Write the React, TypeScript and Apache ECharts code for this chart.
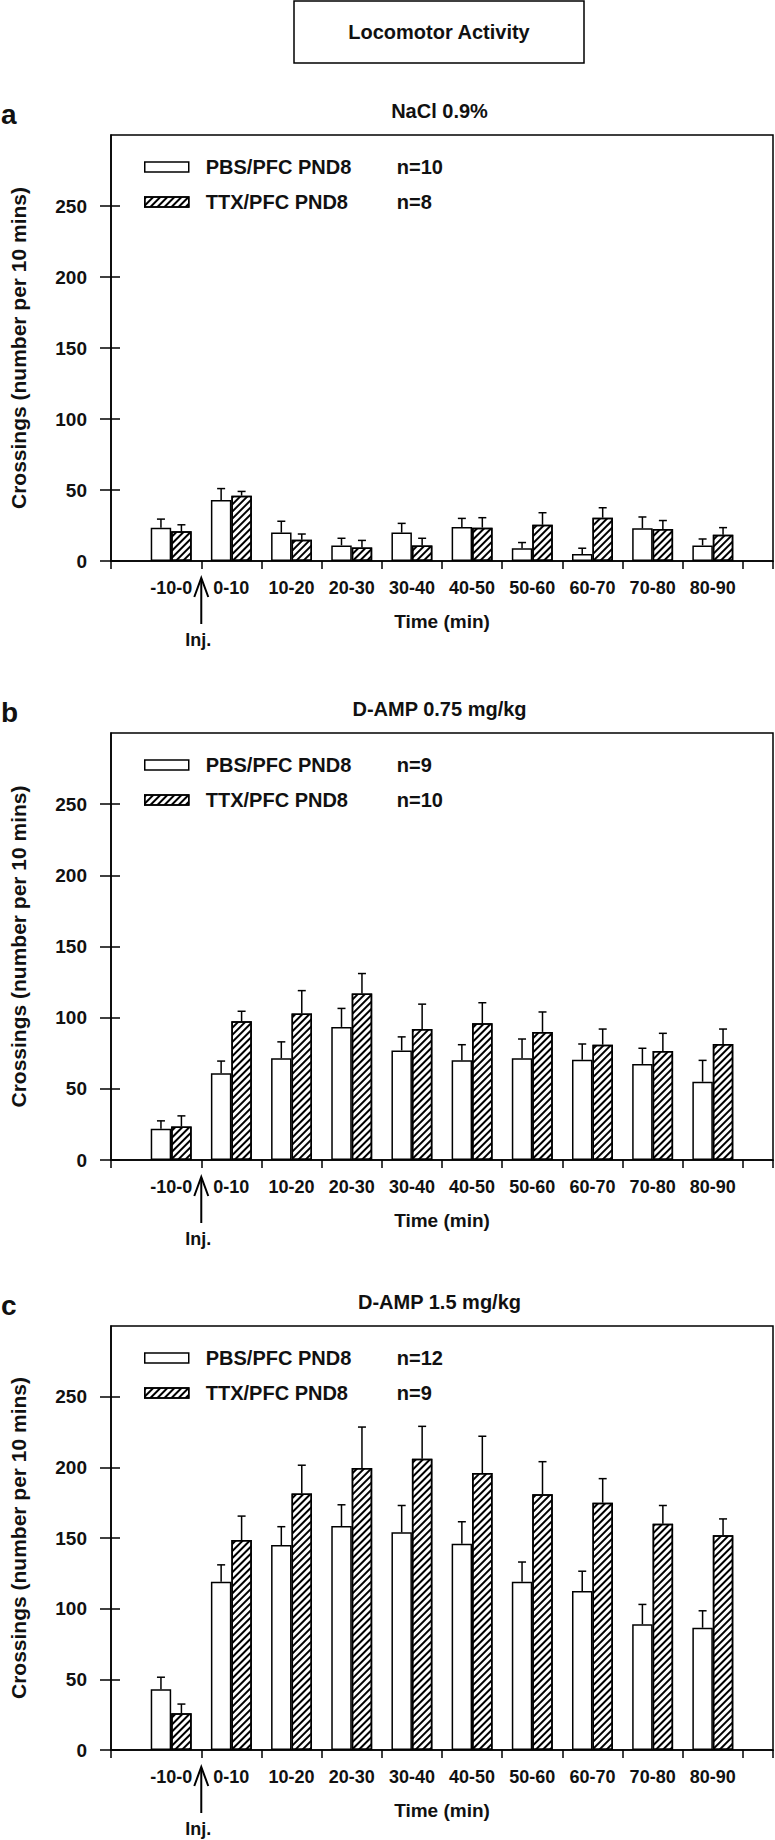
import React, { useEffect, useRef } from 'react';
import * as echarts from 'echarts';

const categories = ['-10-0', '0-10', '10-20', '20-30', '30-40', '40-50', '50-60', '60-70', '70-80', '80-90'];
const yTickValues = [0, 50, 100, 150, 200, 250];

// Panel a: NaCl 0.9%
const pbsA = [23.5, 43, 20, 11, 20, 24, 9, 5, 23, 11];
const pbsAErr = [6, 8, 8, 5, 6.5, 6, 4, 4, 8, 4.5];
const ttxA = [21, 46, 15, 9.5, 11, 23.5, 25.5, 30.5, 22.5, 18.5];
const ttxAErr = [4.5, 3, 4, 5, 5, 7, 8.5, 7, 6, 5];

// Panel b: D-AMP 0.75 mg/kg
const pbsB = [22, 61, 71.5, 93.5, 77, 70, 71.5, 70.5, 67.5, 55];
const pbsBErr = [5.5, 8.5, 11.5, 13, 9.5, 11, 13.5, 11, 11, 15];
const ttxB = [23.5, 97.5, 103, 117, 92, 96, 90, 81, 76.5, 81.5];
const ttxBErr = [7.5, 7, 16, 14, 17.5, 14.5, 14, 11, 12.5, 10.5];

// Panel c: D-AMP 1.5 mg/kg
const pbsC = [43, 119, 145, 158.5, 154, 146, 119, 112.5, 89, 86.5];
const pbsCErr = [8.5, 12, 13, 15, 19, 15.5, 14, 14, 14, 12];
const ttxC = [26, 148.5, 181.5, 199.5, 206, 196, 181, 175, 160, 152];
const ttxCErr = [6.5, 17, 20, 29, 23, 26, 23, 17, 13, 11.5];

const PBS = 'PBS/PFC PND8';
const TTX = 'TTX/PFC PND8';

const panels = [
  { letter: 'a', title: 'NaCl 0.9%', nPbs: 'n=10', nTtx: 'n=8', pbs: pbsA, pbsErr: pbsAErr, ttx: ttxA, ttxErr: ttxAErr, top: 135, height: 426 },
  { letter: 'b', title: 'D-AMP 0.75 mg/kg', nPbs: 'n=9', nTtx: 'n=10', pbs: pbsB, pbsErr: pbsBErr, ttx: ttxB, ttxErr: ttxBErr, top: 733, height: 427 },
  { letter: 'c', title: 'D-AMP 1.5 mg/kg', nPbs: 'n=12', nTtx: 'n=9', pbs: pbsC, pbsErr: pbsCErr, ttx: ttxC, ttxErr: ttxCErr, top: 1326, height: 424 },
];

const FONT = "'Liberation Sans', Arial, Helvetica, sans-serif";
const INK = '#111';
const GRID_LEFT = 106;
const GRID_RIGHT = 2;

const hatch = {
  symbol: 'rect',
  symbolSize: 1,
  color: '#000',
  backgroundColor: '#fff',
  dashArrayX: [1, 0],
  dashArrayY: [1.6, 3],
  rotation: -Math.PI / 4,
};

function errorRender(side: number) {
  return (params: any, api: any) => {
    const x = api.value(0);
    const y = api.value(1);
    const e = api.value(2);
    const band = api.size([1, 0])[0];
    const base = api.coord([x, y]);
    const top = api.coord([x, y + e]);
    const cx = base[0] + side * 0.17 * band;
    const st = { stroke: '#000', lineWidth: 1.5 };
    return {
      type: 'group',
      children: [
        { type: 'line', shape: { x1: cx, y1: base[1], x2: cx, y2: top[1] }, style: st },
        { type: 'line', shape: { x1: cx - 4, y1: top[1], x2: cx + 4, y2: top[1] }, style: st },
      ],
    };
  };
}

export default function App() {
  const ref = useRef<HTMLDivElement>(null);

  useEffect(() => {
    if (!ref.current) return;
    const chart = echarts.init(ref.current, undefined, { renderer: 'svg' });

    const xTickPositions = [-1, ...categories.map((_, i) => i + 0.5), categories.length];
    const labelPositions = categories.map((_, i) => i);

    const grid: any[] = [];
    const xAxis: any[] = [];
    const yAxis: any[] = [];
    const series: any[] = [];
    const legend: any[] = [];

    panels.forEach((p, i) => {
      grid.push({
        left: GRID_LEFT,
        right: GRID_RIGHT,
        top: p.top,
        height: p.height,
        show: true,
        borderColor: '#000',
        borderWidth: 1.5,
        backgroundColor: 'transparent',
      });
      xAxis.push({
        type: 'value',
        gridIndex: i,
        min: -1,
        max: categories.length,
        axisLine: { show: true, onZero: false, lineStyle: { color: '#000', width: 1.5 } },
        axisTick: { show: true, customValues: xTickPositions, length: 8, lineStyle: { color: '#000', width: 1.5 } },
        axisLabel: {
          customValues: labelPositions,
          formatter: (v: number) => categories[Math.round(v)] ?? '',
          margin: 18,
          fontSize: 18,
          fontWeight: 'bold',
          fontFamily: FONT,
          color: INK,
        },
        splitLine: { show: false },
        name: 'Time (min)',
        nameLocation: 'middle',
        nameGap: 51,
        nameTextStyle: { fontSize: 19, fontWeight: 'bold', fontFamily: FONT, color: INK },
      });
      yAxis.push({
        type: 'value',
        gridIndex: i,
        position: 'left',
        min: 0,
        max: 300,
        interval: 50,
        axisLine: { show: true, onZero: false, lineStyle: { color: '#000', width: 1.5 } },
        axisTick: { show: true, inside: false, length: 11, customValues: yTickValues, lineStyle: { color: '#000', width: 1.5 } },
        axisLabel: {
          customValues: yTickValues,
          margin: 24,
          fontSize: 19,
          fontWeight: 'bold',
          fontFamily: FONT,
          color: INK,
        },
        splitLine: { show: false },
        name: 'Crossings (number per 10 mins)',
        nameLocation: 'middle',
        nameRotate: 90,
        nameGap: 82,
        nameTextStyle: { fontSize: 21, fontWeight: 'bold', fontFamily: FONT, color: INK },
      });
      yAxis.push({
        type: 'value',
        gridIndex: i,
        position: 'left',
        min: 0,
        max: 300,
        interval: 50,
        axisLine: { show: false, onZero: false },
        axisTick: { show: true, inside: true, length: 9, customValues: yTickValues, lineStyle: { color: '#000', width: 1.5 } },
        axisLabel: { show: false },
        splitLine: { show: false },
      });

      const yIdx = i * 2;
      series.push({
        type: 'bar',
        name: PBS,
        xAxisIndex: i,
        yAxisIndex: yIdx,
        data: p.pbs.map((v, k) => [k, v]),
        barWidth: '34%',
        barGap: '0%',
        itemStyle: { color: '#fff', borderColor: '#000', borderWidth: 1.5 },
      });
      series.push({
        type: 'bar',
        name: TTX,
        xAxisIndex: i,
        yAxisIndex: yIdx,
        data: p.ttx.map((v, k) => [k, v]),
        barWidth: '34%',
        barGap: '0%',
        itemStyle: { color: '#fff', borderColor: '#000', borderWidth: 1.5, decal: hatch },
      });
      series.push({
        type: 'custom',
        name: 'pbsErr' + i,
        xAxisIndex: i,
        yAxisIndex: yIdx,
        data: p.pbs.map((v, k) => [k, v, p.pbsErr[k]]),
        renderItem: errorRender(-1),
        z: 5,
      });
      series.push({
        type: 'custom',
        name: 'ttxErr' + i,
        xAxisIndex: i,
        yAxisIndex: yIdx,
        data: p.ttx.map((v, k) => [k, v, p.ttxErr[k]]),
        renderItem: errorRender(1),
        z: 5,
      });

      legend.push({
        orient: 'vertical',
        left: 139,
        top: p.top + 17,
        itemWidth: 44,
        itemHeight: 10,
        itemGap: 15,
        icon: 'rect',
        selectedMode: false,
        data: [PBS, TTX],
        itemStyle: { borderColor: '#000', borderWidth: 1.5 },
        formatter: (name: string) => `{p| }{a|${name}}{b|${name === PBS ? p.nPbs : p.nTtx}}`,
        textStyle: {
          rich: {
            p: { width: 12, fontSize: 20, lineHeight: 22 },
            a: { width: 191, fontSize: 20, fontWeight: 'bold', fontFamily: FONT, color: INK, lineHeight: 22 },
            b: { fontSize: 20, fontWeight: 'bold', fontFamily: FONT, color: INK, lineHeight: 22 },
          },
        },
      });
    });

    chart.setOption({
      animation: false,
      backgroundColor: '#fff',
      grid,
      xAxis,
      yAxis,
      series,
      legend,
    });

    const graphic: any[] = [
      {
        type: 'rect',
        shape: { x: 294, y: 1, width: 290, height: 62 },
        style: { fill: '#fff', stroke: '#000', lineWidth: 1.5 },
      },
      {
        type: 'text',
        style: { text: 'Locomotor Activity', x: 439, y: 32, fontSize: 20, fontWeight: 'bold', fontFamily: FONT, fill: INK, align: 'center', verticalAlign: 'middle' },
      },
    ];

    panels.forEach((p, i) => {
      const centerX = GRID_LEFT + (775 - GRID_LEFT - GRID_RIGHT) / 2;
      graphic.push({
        type: 'text',
        style: { text: p.letter, x: 1, y: p.top - 7, fontSize: 28, fontWeight: 'bold', fontFamily: FONT, fill: INK, align: 'left', verticalAlign: 'bottom' },
      });
      graphic.push({
        type: 'text',
        style: { text: p.title, x: centerX, y: p.top - 24, fontSize: 20, fontWeight: 'bold', fontFamily: FONT, fill: INK, align: 'center', verticalAlign: 'middle' },
      });
      const pt = chart.convertToPixel({ xAxisIndex: i, yAxisIndex: i * 2 } as any, [0.5, 0]) as number[];
      const ax = pt[0];
      const ay = pt[1];
      graphic.push({
        type: 'line',
        shape: { x1: ax, y1: ay + 18, x2: ax, y2: ay + 63 },
        style: { stroke: '#000', lineWidth: 2 },
      });
      graphic.push({
        type: 'polyline',
        shape: { points: [[ax - 7, ay + 36], [ax, ay + 17], [ax + 7, ay + 36]] },
        style: { stroke: '#000', lineWidth: 2, fill: 'none' },
      });
      graphic.push({
        type: 'text',
        style: { text: 'Inj.', x: ax - 3, y: ay + 79, fontSize: 18, fontWeight: 'bold', fontFamily: FONT, fill: INK, align: 'center', verticalAlign: 'middle' },
      });
    });

    chart.setOption({ graphic });

    return () => {
      chart.dispose();
    };
  }, []);

  return (
    <div
      ref={ref}
      style={{ position: 'absolute', left: 0, top: 0, width: 775, height: 1840, background: '#fff' }}
    />
  );
}
